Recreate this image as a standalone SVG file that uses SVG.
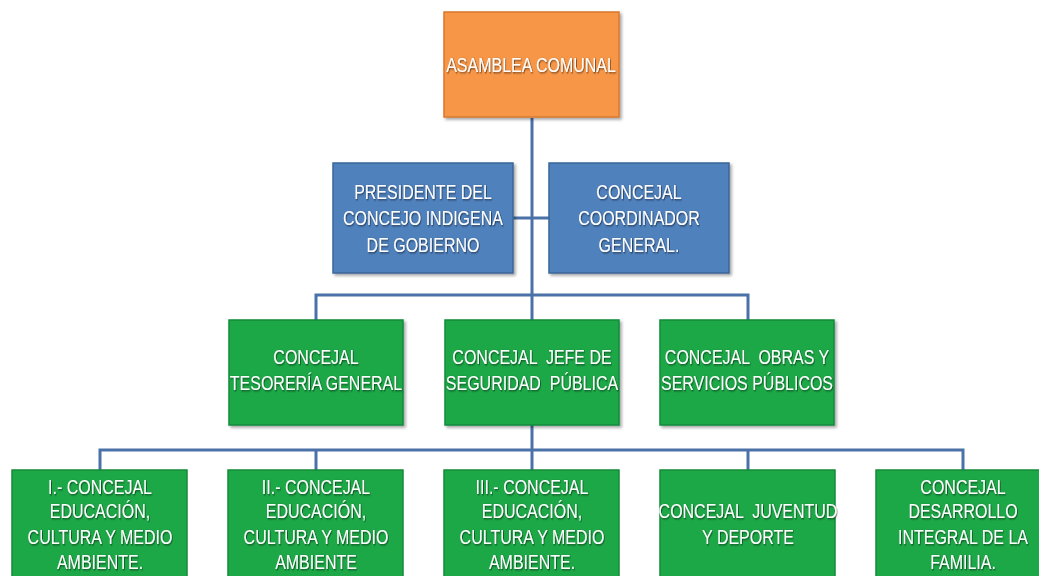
<svg xmlns="http://www.w3.org/2000/svg" width="1039" height="576" viewBox="0 0 1039 576">
<defs>
<filter id="ts" x="-10%" y="-30%" width="120%" height="160%">
<feDropShadow dx="1" dy="1" stdDeviation="0.8" flood-color="#000" flood-opacity="0.6"/>
</filter>
<filter id="bs" x="-5%" y="-5%" width="112%" height="115%">
<feDropShadow dx="2" dy="2" stdDeviation="1.5" flood-color="#000" flood-opacity="0.35"/>
</filter>
</defs>
<style>
.orange{fill:#F79646;stroke:#D9782D;stroke-width:1.5}
.blue{fill:#4F81BD;stroke:#3A6699;stroke-width:1.5}
.green{fill:#1DA847;stroke:#158A38;stroke-width:1.5}
.t{font-family:"Liberation Sans",Arial,sans-serif;font-size:20.5px;fill:#fff;text-anchor:middle;filter:url(#ts)}
.c{fill:none;stroke:#4A72A8;stroke-width:3}
</style>
<rect width="1039" height="576" fill="#fff"/>
<g id="connectors">
<path class="c" d="M532 118V450"/>
<path class="c" d="M513 218H549"/>
<path class="c" d="M316 320V295H748V320"/>
<path class="c" d="M100 470V450H963V470"/>
<path class="c" d="M316 450V470M532 450V470M748 450V470"/>
</g>
<g id="asamblea">
<rect class="orange" x="444" y="12" width="175" height="105" filter="url(#bs)"/>
<g transform="translate(531 0) scale(0.78 1)"><text class="t" x="0" y="72" font-size="21">ASAMBLEA COMUNAL</text></g>
</g>
<g id="presidente">
<rect class="blue" x="333" y="163" width="180" height="110" filter="url(#bs)"/>
<g transform="translate(423 0) scale(0.78 1)">
<text class="t" x="0" y="199">PRESIDENTE DEL</text>
<text class="t" x="0" y="225">CONCEJO INDIGENA</text>
<text class="t" x="0" y="252">DE GOBIERNO</text>
</g>
</g>
<g id="coordinador">
<rect class="blue" x="549" y="163" width="180" height="110" filter="url(#bs)"/>
<g transform="translate(639 0) scale(0.78 1)">
<text class="t" x="0" y="199">CONCEJAL</text>
<text class="t" x="0" y="225">COORDINADOR</text>
<text class="t" x="0" y="252">GENERAL.</text>
</g>
</g>
<g id="tesoreria">
<rect class="green" x="229" y="320" width="174" height="105" filter="url(#bs)"/>
<g transform="translate(316 0) scale(0.78 1)">
<text class="t" x="0" y="364">CONCEJAL</text>
<text class="t" x="0" y="390">TESORERÍA GENERAL</text>
</g>
</g>
<g id="seguridad">
<rect class="green" x="445" y="320" width="174" height="105" filter="url(#bs)"/>
<g transform="translate(532 0) scale(0.78 1)">
<text class="t" x="0" y="364" xml:space="preserve">CONCEJAL  JEFE DE</text>
<text class="t" x="0" y="390" xml:space="preserve">SEGURIDAD  PÚBLICA</text>
</g>
</g>
<g id="obras">
<rect class="green" x="660" y="320" width="174" height="105" filter="url(#bs)"/>
<g transform="translate(747 0) scale(0.78 1)">
<text class="t" x="0" y="364" xml:space="preserve">CONCEJAL  OBRAS Y</text>
<text class="t" x="0" y="390">SERVICIOS PÚBLICOS</text>
</g>
</g>
<g id="educacion1">
<rect class="green" x="12" y="470" width="175" height="110"/>
<g transform="translate(100 0) scale(0.78 1)">
<text class="t" x="0" y="494">I.- CONCEJAL</text>
<text class="t" x="0" y="518">EDUCACIÓN,</text>
<text class="t" x="0" y="544">CULTURA Y MEDIO</text>
<text class="t" x="0" y="569">AMBIENTE.</text>
</g>
</g>
<g id="educacion2">
<rect class="green" x="228" y="470" width="175" height="110"/>
<g transform="translate(316 0) scale(0.78 1)">
<text class="t" x="0" y="494">II.- CONCEJAL</text>
<text class="t" x="0" y="518">EDUCACIÓN,</text>
<text class="t" x="0" y="544">CULTURA Y MEDIO</text>
<text class="t" x="0" y="569">AMBIENTE</text>
</g>
</g>
<g id="educacion3">
<rect class="green" x="444" y="470" width="175" height="110"/>
<g transform="translate(532 0) scale(0.78 1)">
<text class="t" x="0" y="494">III.- CONCEJAL</text>
<text class="t" x="0" y="518">EDUCACIÓN,</text>
<text class="t" x="0" y="544">CULTURA Y MEDIO</text>
<text class="t" x="0" y="569">AMBIENTE.</text>
</g>
</g>
<g id="juventud">
<rect class="green" x="660" y="470" width="175" height="110"/>
<g transform="translate(748 0) scale(0.78 1)">
<text class="t" x="0" y="518" xml:space="preserve">CONCEJAL  JUVENTUD</text>
<text class="t" x="0" y="544">Y DEPORTE</text>
</g>
</g>
<g id="familia">
<rect class="green" x="876" y="470" width="175" height="110"/>
<g transform="translate(963 0) scale(0.78 1)">
<text class="t" x="0" y="494">CONCEJAL</text>
<text class="t" x="0" y="518">DESARROLLO</text>
<text class="t" x="0" y="544">INTEGRAL DE LA</text>
<text class="t" x="0" y="569">FAMILIA.</text>
</g>
</g>
</svg>
